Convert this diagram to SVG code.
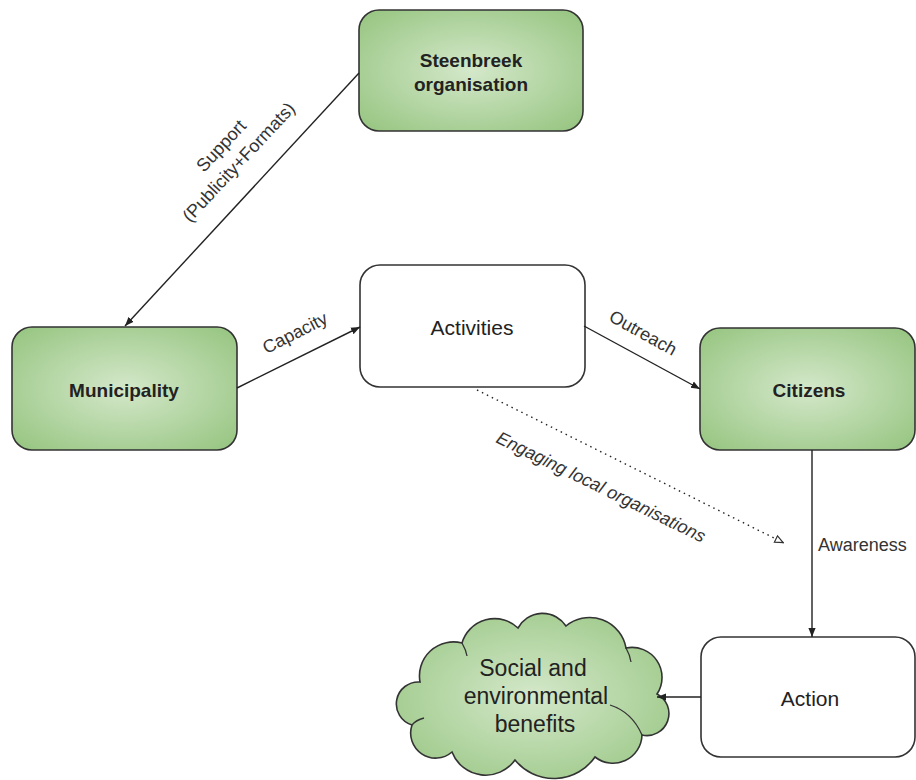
<svg xmlns="http://www.w3.org/2000/svg" width="916" height="780" viewBox="0 0 916 780">
  <defs>
    <radialGradient id="green" cx="0.5" cy="0.5" r="0.7">
      <stop offset="0" stop-color="#d4e8ca"/>
      <stop offset="1" stop-color="#95c47f"/>
    </radialGradient>
    <marker id="arr" viewBox="0 0 10 10" refX="10" refY="5" markerWidth="9" markerHeight="9" markerUnits="userSpaceOnUse" orient="auto">
      <path d="M0,1 L10,5 L0,9 Z" fill="#222"/>
    </marker>
    <marker id="open" viewBox="0 0 10 10" refX="10" refY="5" markerWidth="10" markerHeight="10" markerUnits="userSpaceOnUse" orient="auto">
      <path d="M1,1.5 L9,5 L1,8.5 Z" fill="#fff" stroke="#333" stroke-width="1.2"/>
    </marker>
    <style>
      .gbox { fill: url(#green); stroke: #333; stroke-width: 1.6; }
      .wbox { fill: #fff; stroke: #333; stroke-width: 1.6; }
      .t { font-family: "Liberation Sans", Arial, sans-serif; fill: #222; text-anchor: middle; }
      .b { font-weight: bold; font-size: 19px; }
      .r { font-size: 21px; }
      .lbl { font-family: "Liberation Sans", Arial, sans-serif; fill: #333; font-size: 18px; text-anchor: middle; }
      .conn { stroke: #222; stroke-width: 1.4; fill: none; }
    </style>
  </defs>

  <g id="steenbreek">
    <rect class="gbox" x="359" y="10" width="224" height="121" rx="20"/>
    <text class="t b" x="471" y="67">Steenbreek</text>
    <text class="t b" x="471" y="91">organisation</text>
  </g>

  <g id="municipality">
    <rect class="gbox" x="12" y="327" width="225" height="123" rx="20"/>
    <text class="t b" x="124" y="397" font-size="20">Municipality</text>
  </g>

  <g id="activities">
    <rect class="wbox" x="360" y="265" width="225" height="122" rx="20"/>
    <text class="t r" x="472" y="335">Activities</text>
  </g>

  <g id="citizens">
    <rect class="gbox" x="700" y="328" width="215" height="122" rx="20"/>
    <text class="t b" x="809" y="397">Citizens</text>
  </g>

  <g id="action">
    <rect class="wbox" x="701" y="637" width="214" height="120" rx="20"/>
    <text class="t r" x="810" y="706">Action</text>
  </g>

  <g id="benefits">
    <path class="gbox" d="M420,682 A34,34 0 0 1 462,643 A34,34 0 0 1 518,628 A28,28 0 0 1 566,626 A37,37 0 0 1 626,648 A30,30 0 0 1 657,694 A22,22 0 0 1 642,735 A29,29 0 0 1 595,757 A50,50 0 0 1 515,760 A36,36 0 0 1 452,752 A25,25 0 0 1 412,725 A22,22 0 0 1 420,682 Z"/>
    <path d="M412,725 Q416,720 424,718 M642,735 Q632,712 610,705 M626,648 Q630,655 631,662 M462,643 Q466,650 467,656" fill="none" stroke="#333" stroke-width="1.3"/>
    <text class="t" font-size="23" x="533" y="676">Social and</text>
    <text class="t" font-size="23" x="536" y="704">environmental</text>
    <text class="t" font-size="23" x="535" y="732">benefits</text>
  </g>

  <g id="connectors">
    <line class="conn" x1="359" y1="73" x2="125" y2="326" marker-end="url(#arr)"/>
    <line class="conn" x1="237" y1="388" x2="360" y2="327" marker-end="url(#arr)"/>
    <line class="conn" x1="584" y1="326" x2="700" y2="389" marker-end="url(#arr)"/>
    <line class="conn" x1="477" y1="390" x2="784" y2="543" stroke-dasharray="1.5 4" stroke="#444" marker-end="url(#open)"/>
    <line class="conn" x1="812" y1="450" x2="812" y2="637" marker-end="url(#arr)"/>
    <line class="conn" x1="701" y1="697" x2="657" y2="697" marker-end="url(#arr)"/>
    <text class="lbl" transform="rotate(-47 230 154)"><tspan x="230" y="148">Support</tspan><tspan x="230" y="172">(Publicity+Formats)</tspan></text>
    <text class="lbl" transform="rotate(-27 295 333)" x="295" y="339">Capacity</text>
    <text class="lbl" transform="rotate(29 643 333)" x="643" y="339">Outreach</text>
    <text class="lbl" transform="rotate(26 601 487)" x="601" y="493" font-style="italic">Engaging local organisations</text>
    <text class="lbl" x="818" y="551" style="text-anchor:start" font-size="19">Awareness</text>
  </g>
</svg>
